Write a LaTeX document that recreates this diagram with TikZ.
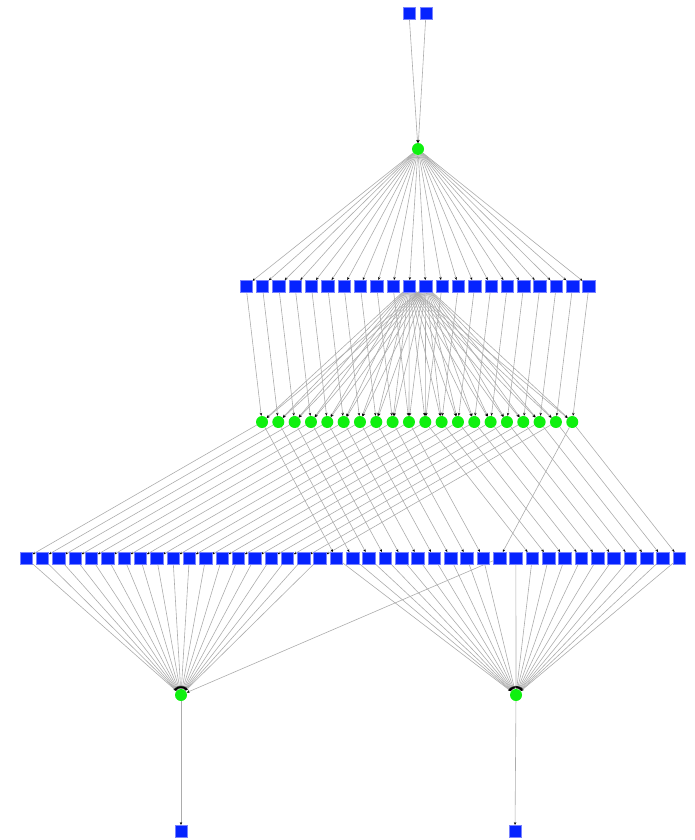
\documentclass[tikz,border=0pt]{standalone}
\usetikzlibrary{arrows.meta,backgrounds}

\definecolor{sqblue}{RGB}{5,35,255}
\definecolor{sqrim}{RGB}{120,130,255}
\definecolor{dotgreen}{RGB}{15,240,15}

\tikzset{
    sqnode/.style={rectangle, fill=sqblue, draw=sqrim, line width=0.4pt,
        minimum width=12.5pt, minimum height=11.5pt, inner sep=0pt},
    dotnode/.style={circle, fill=dotgreen, minimum size=12pt, inner sep=0pt},
    link/.style={draw=gray!65, line width=0.6pt,
        -{Stealth[black,length=3pt,width=2.4pt]}}
}

\begin{document}
\begin{tikzpicture}[x=1pt, y=-1pt]
    \useasboundingbox (0,0) rectangle (695,840);

    % top
    \node[sqnode] (t1) at (409,13) {};
    \node[sqnode] (t2) at (426,13) {};
    \node[dotnode] (c0) at (418,149) {};

    % rows
    \foreach \j in {0,...,21}
        \node[sqnode] (s\j) at ({246+16.33*\j},286) {};
    \foreach \i in {0,...,19}
        \node[dotnode] (g\i) at ({262+16.33*\i},422) {};
    \foreach \k in {0,...,40}
        \node[sqnode] (q\k) at ({26+16.33*\k},558) {};

    % bottom
    \node[dotnode] (bl) at (181,695) {};
    \node[dotnode] (br) at (516,695) {};
    \node[sqnode] (b1) at (181,831) {};
    \node[sqnode] (b2) at (515,831) {};

    \begin{scope}[on background layer]
        \draw[link] (t1) -- (c0);
        \draw[link] (t2) -- (c0);
        \foreach \j in {0,...,21}
            \draw[link] (c0) -- (s\j);

        \foreach \i in {0,...,9}
            \draw[link] (s\i) -- (g\i);
        \foreach \i [evaluate=\i as \j using int(\i+2)] in {10,...,19}
            \draw[link] (s\j) -- (g\i);
        \foreach \i in {0,...,19} {
            \draw[link] (s10) -- (g\i);
            \draw[link] (s11) -- (g\i);
        }

        % left bundle
        \foreach \i in {0,...,18}
            \draw[link] (g\i) -- (q\i);
        \draw[link] (g19) -- (q29);
        % right bundle
        \foreach \i [evaluate=\i as \k using int(\i+19)] in {0,...,9}
            \draw[link] (g\i) -- (q\k);
        \foreach \i [evaluate=\i as \k using int(\i+21)] in {10,...,19}
            \draw[link] (g\i) -- (q\k);

        \foreach \k in {0,...,18,29}
            \draw[link] (q\k) -- (bl);
        \foreach \k in {19,...,28,30,31,...,40}
            \draw[link] (q\k) -- (br);

        \draw[link] (bl) -- (b1);
        \draw[link] (br) -- (b2);
    \end{scope}
\end{tikzpicture}
\end{document}
